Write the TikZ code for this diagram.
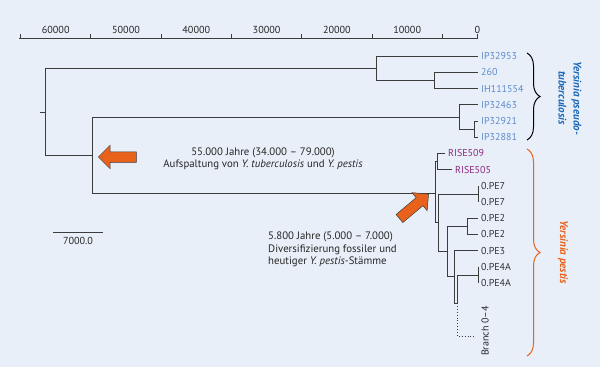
\documentclass[tikz,border=0pt]{standalone}
\usepackage{fontspec}
\setmainfont{PT Sans}
\usepackage{xcolor}
\usetikzlibrary{shapes.arrows,decorations.pathreplacing}
\definecolor{bgblue}{RGB}{232,239,248}
\definecolor{treegrey}{RGB}{60,60,60}
\definecolor{ptblue}{RGB}{95,140,205}
\definecolor{ypblue}{RGB}{30,105,185}
\definecolor{risepurple}{RGB}{140,40,125}
\definecolor{yporange}{RGB}{232,98,28}

\begin{document}
\begin{tikzpicture}[x=1pt,y=-1pt,
  branch/.style={draw=treegrey,line width=0.9pt},
  leaf/.style={anchor=west,inner xsep=3pt,inner ysep=0pt,font=\fontsize{10}{11}\selectfont,text=#1},
  leaf/.default=black!80,
  bigarrow/.style={single arrow,fill=yporange,draw=treegrey,line width=0.5pt,
    minimum height=38pt,single arrow head extend=6.5pt,inner xsep=0pt,inner ysep=5pt},
  cladebrace/.style={decorate,decoration={brace,amplitude=13pt},line width=1pt},
  note/.style={font=\fontsize{10.8}{11.6}\selectfont,text=black!85,inner sep=0pt}]

  %% ── background ──
  \fill[bgblue] (0,0) rectangle (600,367);
  \useasboundingbox (0,0) rectangle (600,367);

  %% ── time axis ──
  \draw[branch,line width=0.8pt] (19,38) -- (478,38);
  \foreach \k in {0,5,15,25,35,45,55,65}
    \draw[branch,line width=0.8pt] ({477.5-7.03*\k},38) -- ++(0,-4);
  \foreach \k/\lab in {0/0,10/10000,20/20000,30/30000,40/40000,50/50000,60/60000}
    \node[note,font=\fontsize{10.2}{11}\selectfont] (ax\k) at ({477.5-7.03*\k},29.5) {\lab};

  %% ── leaves ──
  \node[leaf=ptblue] (ip32953)  at (478,56)    {IP32953};
  \node[leaf=ptblue] (p260)     at (478,72)    {260};
  \node[leaf=ptblue] (ih111554) at (478,88.5)  {IH111554};
  \node[leaf=ptblue] (ip32463)  at (478,104.5) {IP32463};
  \node[leaf=ptblue] (ip32921)  at (478,121)   {IP32921};
  \node[leaf=ptblue] (ip32881)  at (478,137)   {IP32881};
  \node[leaf=risepurple] (rise509) at (445,153)   {RISE509};
  \node[leaf=risepurple] (rise505) at (452,169.5) {RISE505};
  \node[leaf] (pe7a)  at (478,185.5) {0.PE7};
  \node[leaf] (pe7b)  at (478,202)   {0.PE7};
  \node[leaf] (pe2a)  at (478,218)   {0.PE2};
  \node[leaf] (pe2b)  at (478,234)   {0.PE2};
  \node[leaf] (pe3)   at (478,250.5) {0.PE3};
  \node[leaf] (pe4a)  at (478,266.5) {0.PE4A};
  \node[leaf] (pe4b)  at (478,283)   {0.PE4A};

  %% ── inner nodes ──
  \coordinate (stub) at (40,112);
  \coordinate (root) at (45,112);
  \coordinate (n1)  at (376,68);
  \coordinate (n2)  at (434,80);
  \coordinate (n5)  at (92,155);
  \coordinate (n3)  at (459,117);
  \coordinate (n4)  at (474,129);
  \coordinate (nB)  at (435,193);
  \coordinate (nA)  at (437,161);
  \coordinate (nC)  at (438,222);
  \coordinate (nP7) at (478,194);
  \coordinate (nD)  at (447,251);
  \coordinate (nP2) at (467,226);
  \coordinate (nE)  at (454,276);
  \coordinate (nP4) at (478,275);
  \coordinate (nF)  at (457,303);
  \coordinate (b04) at (475,336);

  %% ── branches ──
  \draw[branch] (stub) -- (root);
  \foreach \a/\b in {root/n1,root/n5,n1/ip32953.west,n1/n2,n2/p260.west,n2/ih111554.west,
      n5/n3,n5/nB,n3/ip32463.west,n3/n4,n4/ip32921.west,n4/ip32881.west,
      nB/nA,nB/nC,nA/rise509.west,nA/rise505.west,
      nC/nP7,nC/nD,nP7/pe7a.west,nP7/pe7b.west,
      nD/nP2,nD/nE,nP2/pe2a.west,nP2/pe2b.west,
      nE/pe3.west,nE/nF,nF/nP4,nP4/pe4a.west,nP4/pe4b.west}
    \draw[branch] (\a) |- (\b);
  \draw[branch,dotted] (nF) |- (b04);
  \node[note,font=\fontsize{10}{11}\selectfont,rotate=90] (br04) at (485,331) {Branch 0--4};

  %% ── scale bar ──
  \coordinate (sbl) at (53,232);
  \coordinate (sbr) at (103,232);
  \draw[branch] (sbl) -- (sbr);
  \node[note,font=\fontsize{10.2}{11}\selectfont] (sblab) at (78,241) {7000.0};

  %% ── clade braces ──
  \draw[cladebrace] (527,53) -- (527,140);
  \draw[cladebrace,draw=yporange] (527,149) -- (527,356);
  \node[font=\fontsize{11}{15}\selectfont\bfseries\itshape,text=ypblue,rotate=-90,align=center]
    (ypt) at (570,98) {Yersinia pseudo-\\tuberculosis};
  \node[font=\fontsize{11}{15}\selectfont\bfseries\itshape,text=yporange,rotate=-90]
    (ype) at (563,252) {Yersinia pestis};

  %% ── arrows and notes ──
  \node[bigarrow,rotate=180] (arr1) at (120,157) {};
  \node[note,align=center] (txt1) at (263,159)
    {55.000 Jahre (34.000 -- 79.000)\\Aufspaltung von \textit{Y. tuberculosis} und \textit{Y. pestis}};
  \node[bigarrow,rotate=40] (arr2) at (412,208) {};
  \node[note,align=left,anchor=west,font=\fontsize{10.8}{12.6}\selectfont] (txt2) at (268,249.5)
    {5.800 Jahre (5.000 -- 7.000)\\Diversifizierung fossiler und\\heutiger \textit{Y. pestis}-Stämme};
\end{tikzpicture}
\end{document}
